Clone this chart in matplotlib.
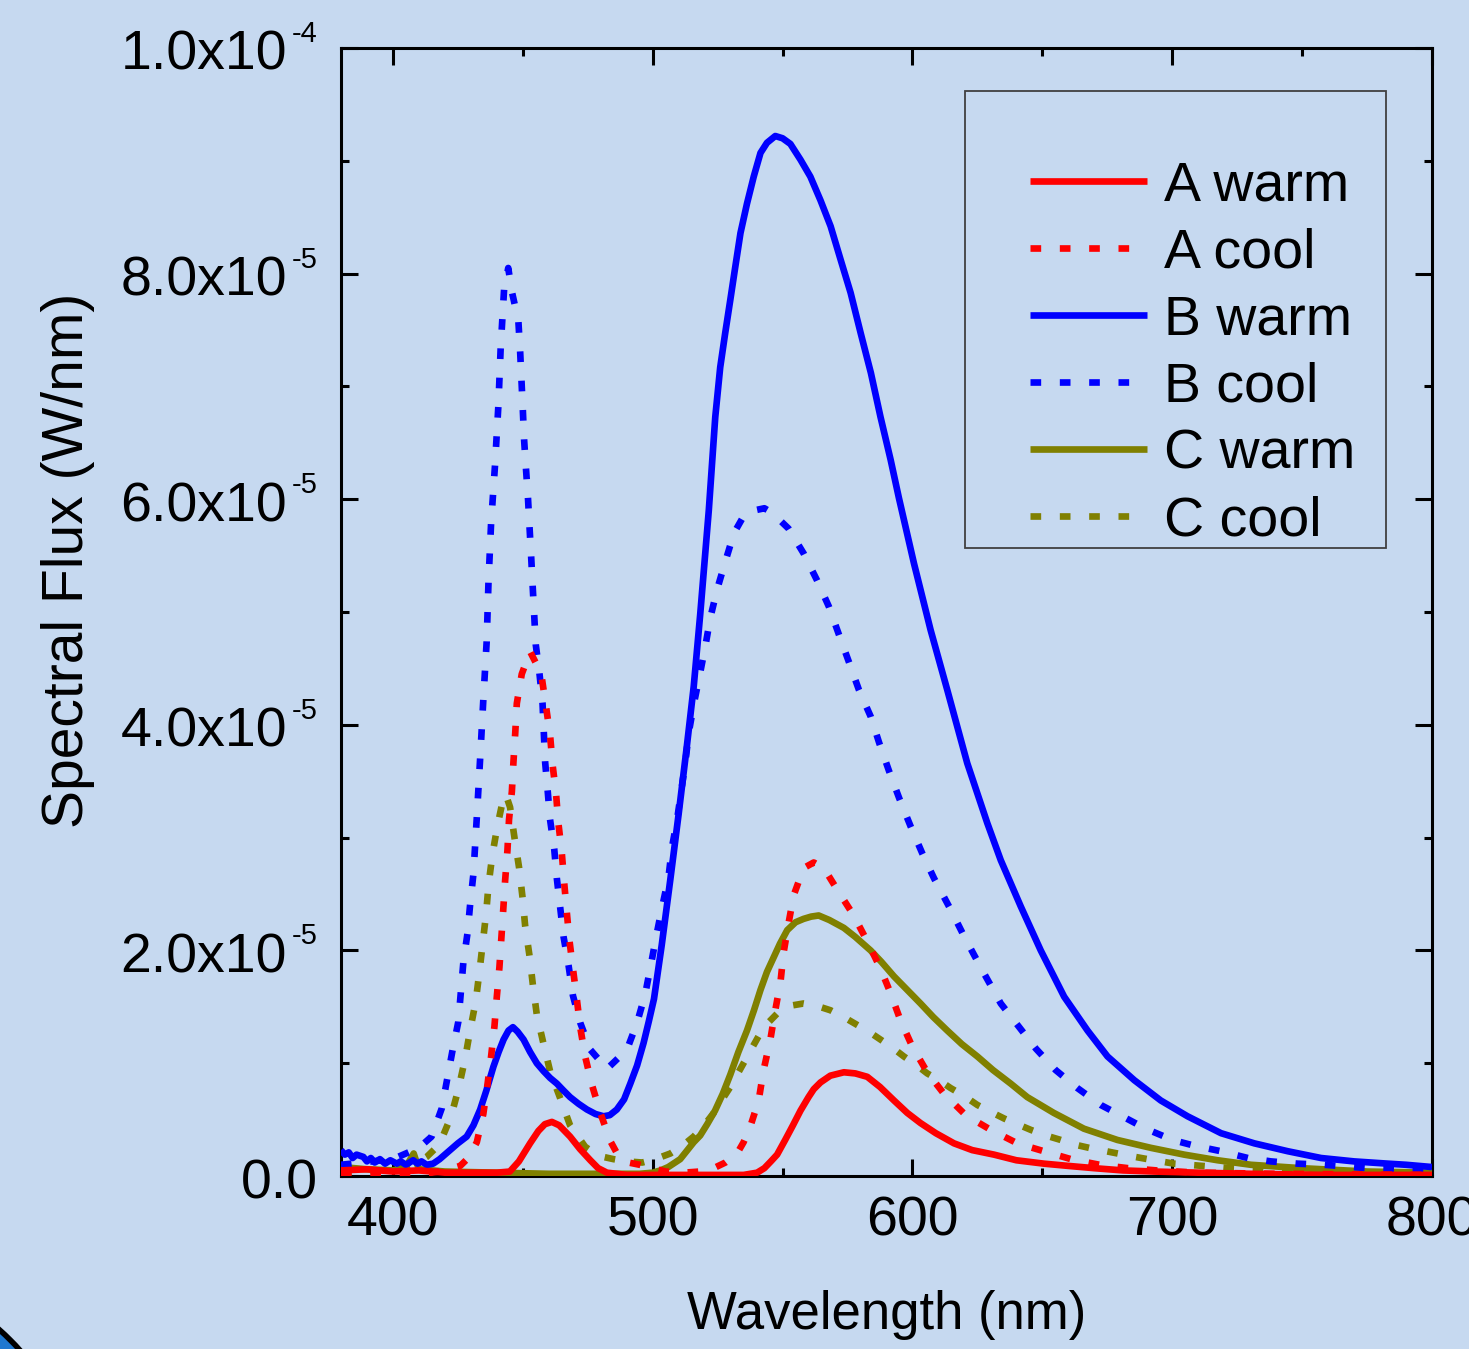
import numpy as np
import matplotlib.pyplot as plt
from matplotlib.patches import Rectangle, Ellipse
from matplotlib.ticker import MultipleLocator, FixedLocator

plt.rcParams['font.family'] = ['Liberation Sans', 'DejaVu Sans']

# spectra, values in units of 1e-5 W/nm
a_warm_wl = [380, 390, 400, 410, 420, 430, 440, 445, 448.5, 452.8, 456, 458.5, 461.2, 464, 468.2,
             472, 476, 479, 482.4, 490, 500, 520, 535, 540.2, 543, 545.5, 547.9, 551, 554, 556.9,
             560, 562, 564.6, 568.4, 573.6, 578, 582.6, 587.5, 592.9, 598, 603.1, 609, 616, 623,
             631.4, 640, 650.6, 660, 669.9, 681, 693, 710, 730, 760, 800]
a_warm = [0.05, 0.06, 0.04, 0.05, 0.03, 0.03, 0.03, 0.04, 0.13, 0.29, 0.40, 0.46, 0.48, 0.45, 0.35,
          0.24, 0.14, 0.07, 0.03, 0.01, 0.01, 0.01, 0.01, 0.03, 0.07, 0.13, 0.19, 0.32, 0.45, 0.58,
          0.70, 0.77, 0.83, 0.89, 0.92, 0.91, 0.88, 0.79, 0.67, 0.56, 0.47, 0.38, 0.29, 0.23,
          0.19, 0.14, 0.11, 0.09, 0.07, 0.05, 0.04, 0.03, 0.02, 0.01, 0.01]

a_cool_wl = [380, 400, 415, 420, 425.9, 429, 432.3, 434.8, 436.4, 437.8, 439.1, 440.0, 441.0, 442.5,
             443.2, 444.1, 444.7, 445.8, 446.4, 447.1, 447.7, 449.6, 452.8, 455, 457.3, 458.9,
             460.5, 461.5, 462.8, 463.7, 465.0, 465.9, 466.9, 467.9, 469.3, 470.8, 472.1, 474.0,
             476.6, 480, 483.7, 487, 490.7, 495, 500, 505, 512, 518, 523.5, 528, 532.5, 535,
             537.6, 540.8, 542.7, 545.3, 547.2, 549.2, 550.4, 552.3, 554.3, 558.1, 562, 565.9,
             571.0, 577.4, 582.6, 587.7, 591.6, 595.4, 599.9, 605.7, 612.1, 620.5, 630.1, 640.4,
             650.6, 661, 672, 683, 694, 710, 740, 800]
a_cool = [0.02, 0.02, 0.03, 0.05, 0.09, 0.16, 0.30, 0.55, 0.81, 1.06, 1.33, 1.59, 1.85, 2.37,
          2.62, 2.89, 3.16, 3.41, 3.67, 3.93, 4.19, 4.45, 4.65, 4.55, 4.42, 4.17,
          3.91, 3.64, 3.39, 3.13, 2.87, 2.61, 2.35, 2.10, 1.84, 1.57, 1.32, 1.06,
          0.81, 0.55, 0.31, 0.17, 0.12, 0.10, 0.07, 0.04, 0.03, 0.04, 0.07, 0.12, 0.20, 0.30,
          0.44, 0.67, 0.94, 1.21, 1.47, 1.72, 1.98, 2.24, 2.49, 2.73, 2.78, 2.73,
          2.54, 2.31, 2.08, 1.84, 1.62, 1.38, 1.15, 0.92, 0.73, 0.54, 0.41, 0.29,
          0.22, 0.15, 0.10, 0.07, 0.05, 0.03, 0.02, 0.01]

b_warm_wl = [380, 381.5, 383, 384.5, 386, 388.6, 390, 391.5, 393, 395, 397, 399, 401.5, 403, 405,
             407.8, 409.5, 411, 413, 415.5, 418, 422, 425, 428.4, 431, 433.6, 436, 438.7, 440.7,
             442.6, 444.5, 446.2, 448, 450.3, 452.8, 455.4, 458, 460.5, 463.1, 465.6, 468.2,
             471.5, 474.7, 478, 481.1, 483.5, 486.2, 489, 491.4, 494, 496.5, 498.5, 500.5, 503.5,
             506.8, 510, 513.2, 515.8, 518.3, 521.6, 524.1, 526, 527.9, 529.9, 531.8, 533.8,
             536.3, 538.9, 541.5, 544, 547.2, 550, 553, 556.9, 560.7, 564.6, 568.5, 572.4, 576.2,
             580.1, 584, 587.7, 591.6, 594.8, 600.6, 607, 613.4, 621.1, 628.8, 634, 641.7, 649.4,
             658.4, 667.4, 675.1, 685.4, 695.6, 705.9, 718.8, 731.6, 744.5, 757.3, 770, 783, 790,
             800]
b_warm = [0.23, 0.19, 0.21, 0.16, 0.19, 0.17, 0.13, 0.16, 0.12, 0.15, 0.11, 0.14, 0.11, 0.13, 0.10,
          0.14, 0.11, 0.13, 0.10, 0.11, 0.15, 0.23, 0.29, 0.35, 0.45, 0.59, 0.76, 0.97, 1.10,
          1.21, 1.29, 1.32, 1.28, 1.21, 1.10, 1.00, 0.93, 0.87, 0.82, 0.76, 0.70,
          0.64, 0.59, 0.55, 0.53, 0.54, 0.59, 0.68, 0.82, 0.98, 1.18, 1.37, 1.57, 2.05,
          2.63, 3.21, 3.82, 4.34, 4.98, 5.90, 6.73, 7.17, 7.47, 7.77, 8.06, 8.36,
          8.62, 8.86, 9.07, 9.16, 9.22, 9.20, 9.15, 9.01, 8.86, 8.65, 8.42, 8.12, 7.83,
          7.47, 7.12, 6.73, 6.35, 6.01, 5.43, 4.84, 4.31, 3.66, 3.13, 2.80, 2.39, 2.00,
          1.59, 1.29, 1.06, 0.85, 0.67, 0.53, 0.38, 0.29, 0.22, 0.16, 0.13, 0.11, 0.10,
          0.08]

b_cool_wl = [380, 400, 410, 414.9, 418.8, 423.0, 425.2, 427.1, 428.7, 429.7, 431.0, 432.3, 433.6,
             434.8, 436.1, 436.8, 437.8, 439.3, 440.6, 441.5, 442.8, 444.4, 445.8, 448.3, 449.0,
             450.0, 450.5, 451.2, 452.0, 452.6, 453.2, 453.8, 454.4, 455.0, 456.4, 457.6, 458.6,
             459.6, 460.5, 462.1, 463.1, 464.4, 465.7, 467.6, 469.3, 472.1, 476.0, 482.4, 490.1,
             494.0, 497.1, 499.3, 501.4, 503.6, 506.1, 507.4, 509.4, 512.6, 513.9, 515.8, 518.1,
             520.3, 522.2, 524.8, 528.0, 531.3, 535, 538.9, 543, 546, 552.3, 558.1, 563.3, 567.8,
             571.7, 575.5, 579.4, 584.0, 587.2, 591.0, 594.9, 599.3, 603.8, 608.3, 615, 620, 627,
             634, 641.1, 647.5, 655.1, 663.5, 672.5, 680.8, 689.8, 700.1, 708.4, 718.8, 729.1,
             738, 748.3, 758.6, 775, 800]
b_cool = [0.10, 0.15, 0.25, 0.35, 0.60, 1.12, 1.37, 1.89, 2.15, 2.40, 2.68, 3.18, 3.71,
          4.22, 4.74, 5.27, 5.79, 6.30, 6.83, 7.35, 7.86, 8.05, 7.84, 7.58, 7.30,
          6.80, 6.53, 6.28, 6.01, 5.75, 5.50, 5.23, 4.97, 4.71, 4.46, 4.19, 3.67,
          3.41, 3.16, 2.90, 2.64, 2.38, 2.12, 1.87, 1.60, 1.36, 1.12, 0.95, 1.12,
          1.36, 1.61, 1.87, 2.13, 2.38, 2.65, 2.91, 3.16, 3.67, 3.93, 4.18, 4.44,
          4.70, 4.95, 5.20, 5.45, 5.70, 5.85, 5.90, 5.92, 5.88, 5.74, 5.52, 5.28, 5.05,
          4.80, 4.56, 4.31, 4.07, 3.84, 3.59, 3.35, 3.10, 2.86, 2.64, 2.35, 2.12, 1.82,
          1.53, 1.32, 1.13, 0.94, 0.78, 0.63, 0.53, 0.42, 0.32, 0.27, 0.22, 0.16,
          0.13, 0.11, 0.10, 0.07, 0.05]

c_warm_wl = [380, 390, 400, 405, 408, 410, 420, 440, 460, 480, 495, 500, 503, 506, 510.6, 515.8,
             518.3, 521, 524, 527, 529.9, 533, 536.3, 539, 541.5, 544, 546.6, 549, 551.8, 555,
             558.1, 561, 563.9, 568, 573.6, 578, 583.9, 588, 592.9, 598, 603.1, 608, 613.4, 619,
             625, 631, 637.8, 644.2, 654.4, 666, 678.9, 691.8, 704.6, 717.5, 730.3, 749.6, 775,
             800]
c_warm = [0.08, 0.06, 0.05, 0.08, 0.20, 0.06, 0.04, 0.03, 0.02, 0.02, 0.02, 0.03, 0.05, 0.08,
          0.15, 0.30, 0.36, 0.46, 0.58, 0.73, 0.90, 1.10, 1.29, 1.47, 1.65, 1.81, 1.94, 2.06,
          2.18, 2.25, 2.28, 2.30, 2.31, 2.27, 2.20, 2.12, 2.00, 1.90, 1.77, 1.65, 1.53, 1.41,
          1.29, 1.17, 1.06, 0.94, 0.82, 0.70, 0.56, 0.42, 0.32, 0.25, 0.19, 0.14, 0.10, 0.07,
          0.04, 0.03]

c_cool_wl = [380, 395, 402, 407.9, 413, 417.9, 422.4, 425.2, 427.8, 429.7, 431.9, 433.3, 434.6,
             435.9, 436.8, 438.3, 440.2, 442.5, 443.5, 445.1, 446.8, 448.6, 449.9, 450.9, 452.6,
             453.9, 455.4, 458.0, 460.5, 464.4, 468.2, 474.0, 479, 484.9, 490, 496, 501, 506.8,
             511, 515.8, 519.5, 523.5, 526.5, 529.9, 532.8, 535.7, 538.6, 541.5, 544.5, 547.9,
             553, 558.1, 563, 568.4, 573.5, 578.7, 583.2, 587.7, 592.2, 596.7, 601.2, 605.7,
             610.2, 614.7, 619.9, 625, 630.1, 635.3, 640.4, 645.5, 651.3, 657.1, 662.3, 668,
             673.5, 679, 684.5, 690.5, 700.7, 711.6, 722.6, 740, 760, 780, 800]
c_cool = [0.03, 0.05, 0.07, 0.10, 0.17, 0.28, 0.53, 0.77, 1.04, 1.29, 1.55, 1.81, 2.07,
          2.33, 2.58, 2.85, 3.10, 3.35, 3.38, 3.27, 3.00, 2.73, 2.47, 2.22, 1.95,
          1.69, 1.43, 1.17, 0.93, 0.69, 0.45, 0.26, 0.18, 0.15, 0.13, 0.12, 0.15, 0.20,
          0.26, 0.35, 0.44, 0.56, 0.67, 0.79, 0.91, 1.03, 1.15, 1.27, 1.36, 1.44,
          1.51, 1.53, 1.51, 1.47, 1.41, 1.34, 1.28, 1.21, 1.14, 1.06, 0.99, 0.91,
          0.85, 0.78, 0.71, 0.63, 0.57, 0.51, 0.46, 0.41, 0.36, 0.32, 0.28, 0.25,
          0.225, 0.20, 0.175, 0.15, 0.11, 0.09, 0.07, 0.05, 0.04, 0.03, 0.02]

labels = ['A warm', 'A cool', 'B warm', 'B cool', 'C warm', 'C cool']
y_ticks = [0, 2e-5, 4e-5, 6e-5, 8e-5, 1e-4]
y_mantissa = ['0.0', '2.0x10', '4.0x10', '6.0x10', '8.0x10', '1.0x10']
y_exponent = ['', '-5', '-5', '-5', '-5', '-4']
x_ticks = [400, 500, 600, 700, 800]

bg = '#c6d9f0'
fig = plt.figure(figsize=(14.69, 13.49), dpi=100, facecolor=bg)
ax = fig.add_axes([0.2321, 0.1282, 0.7427, 0.8362], facecolor=bg)

dot = (0, (1.6, 2.8))
series = [
    (a_warm_wl, a_warm, 'red', '-'),
    (a_cool_wl, a_cool, 'red', dot),
    (b_warm_wl, b_warm, 'blue', '-'),
    (b_cool_wl, b_cool, 'blue', dot),
    (c_warm_wl, c_warm, '#808000', '-'),
    (c_cool_wl, c_cool, '#808000', dot),
]
zorders = [8, 7, 6, 5, 4, 3]
handles = []
for (wl, val, col, ls), lab, z in zip(series, labels, zorders):
    ln, = ax.plot(wl, np.array(val) * 1e-5, color=col, linestyle=ls, lw=4.8,
                  dash_capstyle='butt', solid_joinstyle='round', solid_capstyle='butt',
                  label=lab, zorder=z)
    handles.append(ln)

ax.set_xlim(380, 800)
ax.set_ylim(0, 1e-4)
ax.xaxis.set_major_locator(FixedLocator(x_ticks))
ax.xaxis.set_minor_locator(MultipleLocator(50))
ax.yaxis.set_major_locator(FixedLocator(y_ticks))
ax.yaxis.set_minor_locator(MultipleLocator(1e-5))

for s in ax.spines.values():
    s.set_linewidth(2.2)
ax.tick_params(which='both', direction='in', top=True, right=True, width=2.2)
ax.tick_params(which='major', length=12, labelsize=40, pad=14)
ax.tick_params(which='minor', length=6)
ax.tick_params(axis='y', labelleft=False)

# y tick labels written as mantissa plus a small raised exponent
ytrans = ax.get_yaxis_transform()
for v, m, e in zip(y_ticks, y_mantissa, y_exponent):
    if e:
        ax.annotate(m, xy=(0, v), xycoords=ytrans, xytext=(-38.9, -15.8),
                    textcoords='offset points', ha='right', va='baseline', fontsize=40)
        ax.annotate(e, xy=(0, v), xycoords=ytrans, xytext=(-35.3, 4.3),
                    textcoords='offset points', ha='left', va='baseline', fontsize=21)
    else:
        ax.annotate(m, xy=(0, v), xycoords=ytrans, xytext=(-16.6, -15.8),
                    textcoords='offset points', ha='right', va='baseline', fontsize=40)

ax.set_xlabel('Wavelength (nm)', fontsize=38)
ax.xaxis.set_label_coords(0.5, -0.101)
ax.set_ylabel('Spectral Flux (W/nm)', fontsize=41)
ax.yaxis.set_label_coords(-0.2255, 0.546)

ax.add_patch(Rectangle((0.572, 0.557), 0.386, 0.405, transform=ax.transAxes,
                       fill=False, edgecolor='#404040', lw=1.3, zorder=10))
ax.legend(handles=handles, loc='upper left', bbox_to_anchor=(0.6065, 0.925),
          frameon=False, fontsize=40, borderpad=0, handlelength=2.1,
          handletextpad=0.31, labelspacing=0.27)

# dark rounded corner peeking in at the lower left
fig.add_artist(Ellipse((-0.1361, -0.149), 0.4045, 0.4405, transform=fig.transFigure,
                       facecolor='#1f78d0', edgecolor='black', lw=4, clip_on=False))

fig.savefig('out.png', dpi=100, facecolor=bg)
